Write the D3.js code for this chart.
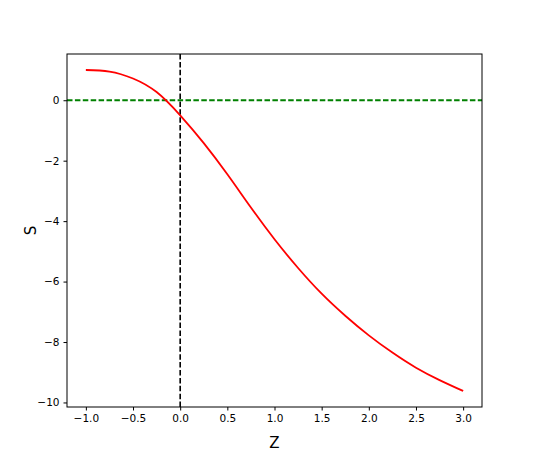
<!DOCTYPE html>
<html>
<head>
<meta charset="utf-8">
<script src="https://cdn.jsdelivr.net/npm/d3@7"></script>
<style>
  body { margin: 0; background: #fff; }
  text { font-family: "DejaVu Sans", sans-serif; }
</style>
</head>
<body>
<svg width="536" height="458"></svg>
<script>
// values
var zValues = [-1.0, -0.75, -0.5, -0.25, 0.0, 0.25, 0.5, 0.75, 1.0, 1.25, 1.5, 1.75, 2.0, 2.25, 2.5, 2.75, 3.0];
var sValues = [1.0, 0.95, 0.72, 0.27, -0.5, -1.42, -2.45, -3.55, -4.6, -5.55, -6.4, -7.13, -7.78, -8.35, -8.85, -9.26, -9.62];
var xTicks = [-1.0, -0.5, 0.0, 0.5, 1.0, 1.5, 2.0, 2.5, 3.0];
var yTicks = [0, -2, -4, -6, -8, -10];

var svg = d3.select("svg"),
    mLeft = 67, mRight = 482, mTop = 54, mBottom = 407;

var x = d3.scaleLinear().domain([-1.2, 3.2]).range([mLeft, mRight]);
var y = d3.scaleLinear().domain([-10.15, 1.53]).range([mBottom, mTop]);

var fmtMinus = function(s) { return s.replace("-", "\u2212"); };

// reference lines
svg.append("line")
    .attr("x1", x(0)).attr("x2", x(0))
    .attr("y1", mTop).attr("y2", mBottom)
    .attr("stroke", "black").attr("stroke-width", 1.6)
    .attr("stroke-dasharray", "5.5,2.4");

svg.append("line")
    .attr("x1", mLeft).attr("x2", mRight)
    .attr("y1", y(0)).attr("y2", y(0))
    .attr("stroke", "#008000").attr("stroke-width", 1.8)
    .attr("stroke-dasharray", "5.5,2.4");

// curve
var line = d3.line()
    .x(function(d, i) { return x(zValues[i]); })
    .y(function(d) { return y(d); })
    .curve(d3.curveNatural);

svg.append("path")
    .datum(sValues)
    .attr("d", line)
    .attr("fill", "none")
    .attr("stroke", "red")
    .attr("stroke-width", 1.8);

// frame
svg.append("rect")
    .attr("x", mLeft).attr("y", mTop)
    .attr("width", mRight - mLeft).attr("height", mBottom - mTop)
    .attr("fill", "none").attr("stroke", "black").attr("stroke-width", 1);

// axes
var xAxis = svg.append("g")
    .attr("transform", "translate(0," + mBottom + ")")
    .call(d3.axisBottom(x).tickValues(xTicks).tickSize(3.5).tickPadding(4)
      .tickFormat(function(d) { return fmtMinus(d3.format(".1f")(d)); }));

var yAxis = svg.append("g")
    .attr("transform", "translate(" + mLeft + ",0)")
    .call(d3.axisLeft(y).tickValues(yTicks).tickSize(3.5).tickPadding(4)
      .tickFormat(function(d) { return fmtMinus(d3.format("d")(d)); }));

[xAxis, yAxis].forEach(function(g) {
  g.select(".domain").remove();
  g.selectAll("text").attr("font-size", "10.5px").attr("fill", "black")
    .attr("font-family", "DejaVu Sans, sans-serif");
  g.selectAll("line").attr("stroke", "black");
});

// axis labels
svg.append("text")
    .attr("x", (mLeft + mRight) / 2).attr("y", 448)
    .attr("text-anchor", "middle")
    .attr("font-size", "15px")
    .text("Z");

svg.append("text")
    .attr("transform", "translate(36," + ((mTop + mBottom) / 2) + ") rotate(-90)")
    .attr("text-anchor", "middle")
    .attr("font-size", "15px")
    .text("S");
</script>
</body>
</html>
